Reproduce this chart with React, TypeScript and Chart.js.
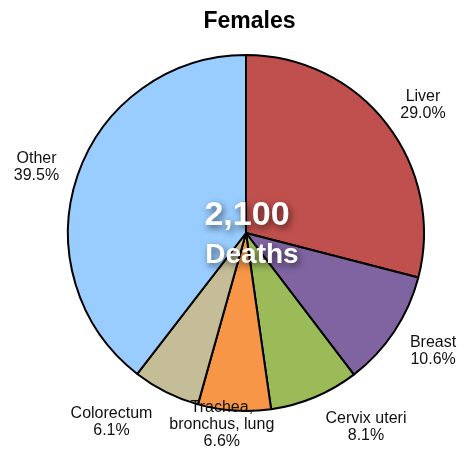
import React, { useEffect, useRef } from "react";
import { Chart, registerables } from "chart.js";

Chart.register(...registerables);

const categories: string[][] = [
  ["Liver"],
  ["Breast"],
  ["Cervix uteri"],
  ["Trachea,", "bronchus, lung"],
  ["Colorectum"],
  ["Other"],
];
const shares: number[] = [29.0, 10.6, 8.1, 6.6, 6.1, 39.5];
const shareLabels: string[] = ["29.0%", "10.6%", "8.1%", "6.6%", "6.1%", "39.5%"];
const colors: string[] = ["#C0504D", "#8064A2", "#9BBB59", "#F79646", "#C4BD97", "#99CCFF"];
const titleText = "Females";
const totalText = "2,100";
const totalUnit = "Deaths";

// label placement: distance beyond center along the slice's mid-angle, plus nudges
const labelDistance = 215;
const labelNudges: [number, number][] = [
  [7, 4],
  [8, -1],
  [37, -4.5],
  [-10, -23],
  [-38, -3.5],
  [-6, 3.5],
];

const FONT = "'Liberation Sans', Arial, Helvetica, sans-serif";

const overlayPlugin = {
  id: "overlay",
  afterDraw(chart: any) {
    const ctx = chart.ctx as CanvasRenderingContext2D;
    const meta = chart.getDatasetMeta(0);
    const arcs = meta.data;
    if (!arcs.length) return;
    const cx = arcs[0].x;
    const cy = arcs[0].y;

    // title
    ctx.save();
    ctx.fillStyle = "#000";
    ctx.font = `bold 23px ${FONT}`;
    ctx.textAlign = "center";
    ctx.textBaseline = "alphabetic";
    ctx.fillText(titleText, chart.width / 2 + 17, 28);
    ctx.restore();

    // slice labels
    ctx.save();
    ctx.fillStyle = "#111";
    ctx.font = `16px ${FONT}`;
    ctx.textAlign = "center";
    ctx.textBaseline = "middle";
    const lh = 17;
    arcs.forEach((arc: any, i: number) => {
      const mid = (arc.startAngle + arc.endAngle) / 2;
      const x = cx + Math.cos(mid) * labelDistance + labelNudges[i][0];
      const y = cy + Math.sin(mid) * labelDistance + labelNudges[i][1];
      const lines = [...categories[i], shareLabels[i]];
      const top = y - ((lines.length - 1) * lh) / 2;
      lines.forEach((ln, k) => ctx.fillText(ln, x, top + k * lh));
    });
    ctx.restore();

    // center total
    ctx.save();
    ctx.fillStyle = "#fff";
    ctx.textAlign = "center";
    ctx.textBaseline = "alphabetic";
    ctx.shadowColor = "rgba(0,0,0,0.6)";
    ctx.shadowBlur = 7;
    ctx.shadowOffsetX = 2;
    ctx.shadowOffsetY = 3;
    ctx.font = `bold 34px ${FONT}`;
    ctx.fillText(totalText, cx + 1, cy - 8);
    ctx.font = `bold 28px ${FONT}`;
    ctx.fillText(totalUnit, cx + 6, cy + 30);
    ctx.restore();
  },
};

export default function App() {
  const ref = useRef<HTMLCanvasElement>(null);
  useEffect(() => {
    if (!ref.current) return;
    const chart = new Chart(ref.current, {
      type: "pie",
      data: {
        labels: categories.map((c) => c.join(" ")),
        datasets: [
          {
            data: shares,
            backgroundColor: colors,
            borderColor: "#000",
            borderWidth: 2,
            hoverOffset: 0,
          },
        ],
      },
      options: {
        responsive: false,
        animation: false,
        radius: 178,
        layout: { padding: { left: 68, right: 41, top: 55, bottom: 40 } },
        plugins: {
          legend: { display: false },
          title: { display: false },
          tooltip: { enabled: false },
        },
      } as any,
      plugins: [overlayPlugin],
    });
    return () => chart.destroy();
  }, []);
  return (
    <div style={{ position: "absolute", left: 0, top: 0, width: 465, height: 451, background: "#fff" }}>
      <canvas ref={ref} width={465} height={451} style={{ display: "block" }} />
    </div>
  );
}
